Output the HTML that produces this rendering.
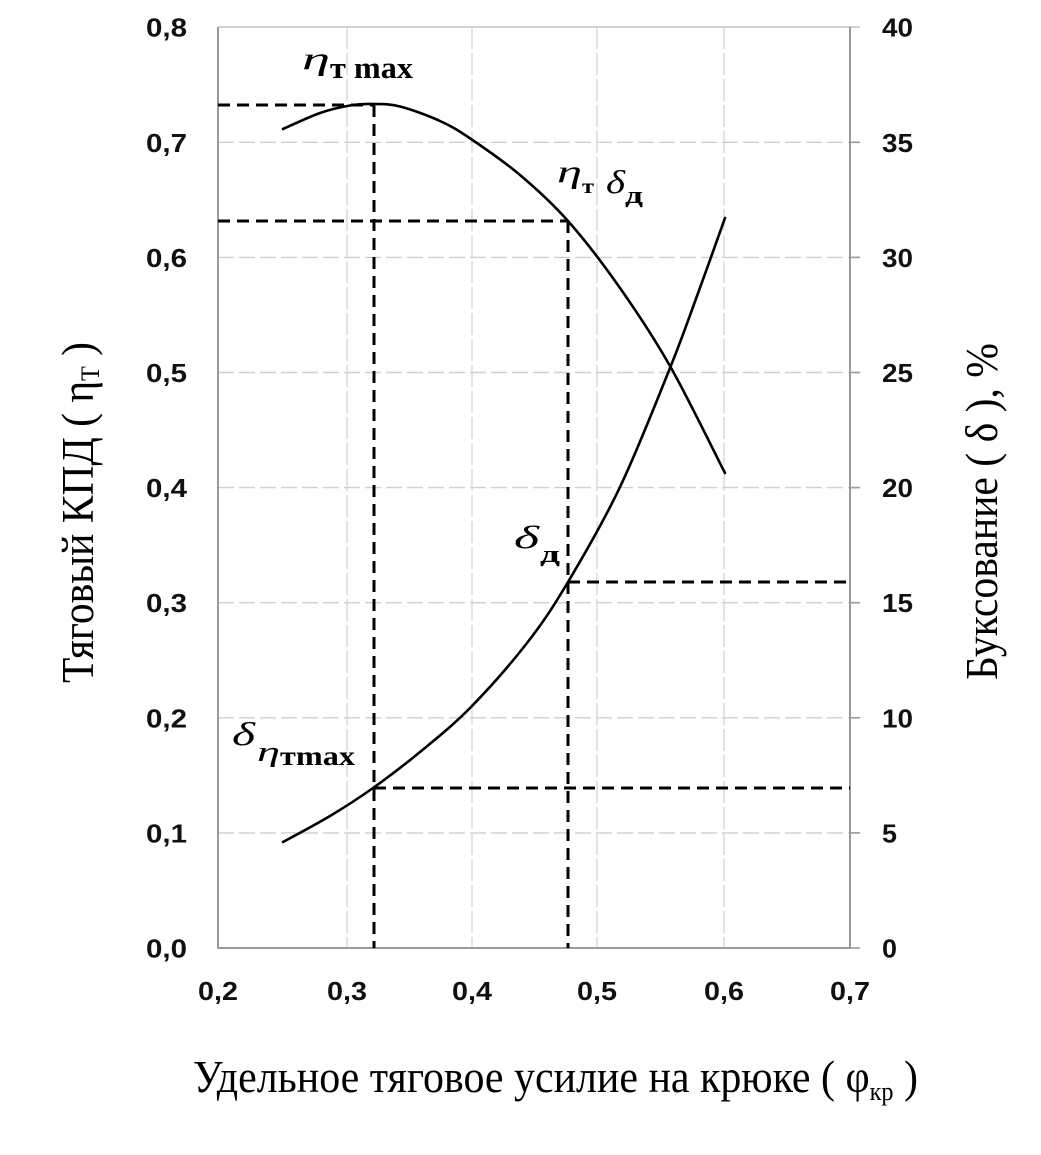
<!DOCTYPE html>
<html>
<head>
<meta charset="utf-8">
<style>
  html, body { margin: 0; padding: 0; background: #ffffff; }
  svg { display: block; }
  .tick { font-family: "Liberation Sans", "DejaVu Sans", sans-serif; font-weight: bold; font-size: 26px; fill: #111; }
  .ttl { font-family: "Liberation Serif", "DejaVu Serif", serif; font-size: 45px; fill: #000; }
  .ann { font-family: "Liberation Serif", "DejaVu Serif", serif; fill: #000; }
</style>
</head>
<body>
<svg width="1041" height="1155" viewBox="0 0 1041 1155" xmlns="http://www.w3.org/2000/svg">
  <rect x="0" y="0" width="1041" height="1155" fill="#ffffff"/>

  <!-- grid -->
  <g stroke="#cfcfcf" stroke-width="1.4" fill="none" stroke-dasharray="16 5">
    <line x1="218" y1="832.9" x2="860" y2="832.9"/>
    <line x1="218" y1="717.8" x2="860" y2="717.8"/>
    <line x1="218" y1="602.7" x2="860" y2="602.7"/>
    <line x1="218" y1="487.6" x2="860" y2="487.6"/>
    <line x1="218" y1="372.5" x2="860" y2="372.5"/>
    <line x1="218" y1="257.4" x2="860" y2="257.4"/>
    <line x1="218" y1="142.3" x2="860" y2="142.3"/>
  </g>
  <line x1="218" y1="27" x2="860" y2="27" stroke="#c4c4c4" stroke-width="1.6"/>
  <g stroke="#d4d4d4" stroke-width="1.3" fill="none" stroke-dasharray="22 4">
    <line x1="347" y1="27" x2="347" y2="948"/>
    <line x1="472" y1="27" x2="472" y2="948"/>
    <line x1="597" y1="27" x2="597" y2="948"/>
    <line x1="724" y1="27" x2="724" y2="948"/>
  </g>
  <!-- right ticks -->
  <g stroke="#9a9a9a" stroke-width="1.6">
    <line x1="850" y1="948" x2="860" y2="948"/>
    <line x1="850" y1="832.9" x2="860" y2="832.9"/>
    <line x1="850" y1="717.8" x2="860" y2="717.8"/>
    <line x1="850" y1="602.7" x2="860" y2="602.7"/>
    <line x1="850" y1="487.6" x2="860" y2="487.6"/>
    <line x1="850" y1="372.5" x2="860" y2="372.5"/>
    <line x1="850" y1="257.4" x2="860" y2="257.4"/>
    <line x1="850" y1="142.3" x2="860" y2="142.3"/>
  </g>

  <!-- axes -->
  <g stroke="#9a9a9a" stroke-width="2" fill="none">
    <line x1="218" y1="27" x2="218" y2="949"/>
    <line x1="217" y1="948" x2="851" y2="948"/>
    <line x1="850" y1="27" x2="850" y2="949"/>
  </g>

  <!-- dashed black guide lines -->
  <g stroke="#000" stroke-width="3" fill="none" stroke-dasharray="12 7">
    <line x1="218" y1="105" x2="374" y2="105"/>
    <line x1="374" y1="105" x2="374" y2="948"/>
    <line x1="218" y1="221" x2="568" y2="221"/>
    <line x1="568" y1="221" x2="568" y2="948"/>
    <line x1="568" y1="582" x2="850" y2="582"/>
    <line x1="374" y1="788" x2="850" y2="788"/>
  </g>

  <!-- eta curve -->
  <path fill="none" stroke="#000" stroke-width="2.6" stroke-linecap="round"
    d="M283,129 C289.2,126.3 308.8,116.9 320,113
       C331.2,109.1 341,107 350,105.5
       C359,104 365.7,103.8 374,104
       C382.3,104.2 389,103.7 400,106.5
       C411,109.3 428.2,115.6 440,121
       C451.8,126.4 457.7,130 471,139
       C484.3,148 503.8,161.3 520,175
       C536.2,188.7 551.3,202.2 568,221
       C584.7,239.8 603,263.8 620,288
       C637,312.2 652.5,335.2 670,366
       C687.5,396.8 715.8,455.2 725,473"/>

  <!-- delta curve -->
  <path fill="none" stroke="#000" stroke-width="2.6" stroke-linecap="round"
    d="M283,842 C290.8,837.7 315,825 330,816
       C345,807 358,798.7 373,788
       C388,777.3 403.7,765.5 420,752
       C436.3,738.5 453.2,725.2 471,707
       C488.8,688.8 510.8,663.8 527,643
       C543.2,622.2 552.5,608 568,582
       C583.5,556 603,522.7 620,487
       C637,451.3 657.2,399.8 670,368
       C682.8,336.2 687.8,321 697,296
       C706.2,271 720.3,231 725,218"/>

  <!-- left tick labels -->
  <g class="tick" text-anchor="end">
    <text x="187" y="957.5" textLength="41" lengthAdjust="spacingAndGlyphs">0,0</text>
    <text x="187" y="842.4" textLength="41" lengthAdjust="spacingAndGlyphs">0,1</text>
    <text x="187" y="727.3" textLength="41" lengthAdjust="spacingAndGlyphs">0,2</text>
    <text x="187" y="612.2" textLength="41" lengthAdjust="spacingAndGlyphs">0,3</text>
    <text x="187" y="497.1" textLength="41" lengthAdjust="spacingAndGlyphs">0,4</text>
    <text x="187" y="382" textLength="41" lengthAdjust="spacingAndGlyphs">0,5</text>
    <text x="187" y="266.9" textLength="41" lengthAdjust="spacingAndGlyphs">0,6</text>
    <text x="187" y="151.8" textLength="41" lengthAdjust="spacingAndGlyphs">0,7</text>
    <text x="187" y="36.5" textLength="41" lengthAdjust="spacingAndGlyphs">0,8</text>
  </g>

  <!-- right tick labels -->
  <g class="tick" text-anchor="start">
    <text x="882" y="957.5" textLength="15" lengthAdjust="spacingAndGlyphs">0</text>
    <text x="882" y="842.4" textLength="15" lengthAdjust="spacingAndGlyphs">5</text>
    <text x="882" y="727.3" textLength="31" lengthAdjust="spacingAndGlyphs">10</text>
    <text x="882" y="612.2" textLength="31" lengthAdjust="spacingAndGlyphs">15</text>
    <text x="882" y="497.1" textLength="31" lengthAdjust="spacingAndGlyphs">20</text>
    <text x="882" y="382" textLength="31" lengthAdjust="spacingAndGlyphs">25</text>
    <text x="882" y="266.9" textLength="31" lengthAdjust="spacingAndGlyphs">30</text>
    <text x="882" y="151.8" textLength="31" lengthAdjust="spacingAndGlyphs">35</text>
    <text x="882" y="36.5" textLength="31" lengthAdjust="spacingAndGlyphs">40</text>
  </g>

  <!-- x tick labels -->
  <g class="tick">
    <text x="198" y="1000" textLength="40" lengthAdjust="spacingAndGlyphs">0,2</text>
    <text x="327" y="1000" textLength="40" lengthAdjust="spacingAndGlyphs">0,3</text>
    <text x="452" y="1000" textLength="40" lengthAdjust="spacingAndGlyphs">0,4</text>
    <text x="577" y="1000" textLength="40" lengthAdjust="spacingAndGlyphs">0,5</text>
    <text x="704" y="1000" textLength="40" lengthAdjust="spacingAndGlyphs">0,6</text>
    <text x="830" y="1000" textLength="40" lengthAdjust="spacingAndGlyphs">0,7</text>
  </g>

  <!-- annotations -->
  <!-- eta_T max -->
  <text class="ann" x="302" y="69" font-style="italic" font-size="32" textLength="28" lengthAdjust="spacingAndGlyphs">η</text>
  <text class="ann" x="330" y="78" font-weight="bold" font-size="31" textLength="83" lengthAdjust="spacingAndGlyphs">т max</text>

  <!-- eta_T delta_d -->
  <text class="ann" x="557" y="182" font-style="italic" font-size="32" textLength="25" lengthAdjust="spacingAndGlyphs">η</text>
  <text class="ann" x="582" y="193" font-weight="bold" font-size="20" textLength="12" lengthAdjust="spacingAndGlyphs">т</text>
  <text class="ann" x="606" y="193" font-style="italic" font-size="33" textLength="19" lengthAdjust="spacingAndGlyphs">δ</text>
  <text class="ann" x="625" y="203" font-weight="bold" font-size="24" textLength="18" lengthAdjust="spacingAndGlyphs">д</text>

  <!-- delta_d -->
  <text class="ann" x="514" y="548" font-style="italic" font-size="32" textLength="25" lengthAdjust="spacingAndGlyphs">δ</text>
  <text class="ann" x="540" y="562" font-weight="bold" font-size="24" textLength="20" lengthAdjust="spacingAndGlyphs">д</text>

  <!-- delta eta_T max -->
  <text class="ann" x="232" y="745" font-style="italic" font-size="33" textLength="23" lengthAdjust="spacingAndGlyphs">δ</text>
  <text class="ann" x="257" y="761" font-style="italic" font-size="28" textLength="23" lengthAdjust="spacingAndGlyphs">η</text>
  <text class="ann" x="280" y="765" font-weight="bold" font-size="27" textLength="75" lengthAdjust="spacingAndGlyphs">тmax</text>

  <!-- axis titles -->
  <text class="ttl" x="193" y="1092" textLength="725" lengthAdjust="spacingAndGlyphs">Удельное тяговое усилие на крюке ( φ<tspan font-size="26" dy="8">кр</tspan><tspan dy="-8"> )</tspan></text>

  <text class="ttl" transform="translate(93,683) rotate(-90)" x="0" y="0" textLength="341" lengthAdjust="spacingAndGlyphs">Тяговый КПД ( η<tspan font-size="26" dy="6">Т</tspan><tspan dy="-6"> )</tspan></text>

  <text class="ttl" transform="translate(997,680) rotate(-90)" x="0" y="0" textLength="337" lengthAdjust="spacingAndGlyphs">Буксование ( δ ), %</text>
</svg>
</body>
</html>
